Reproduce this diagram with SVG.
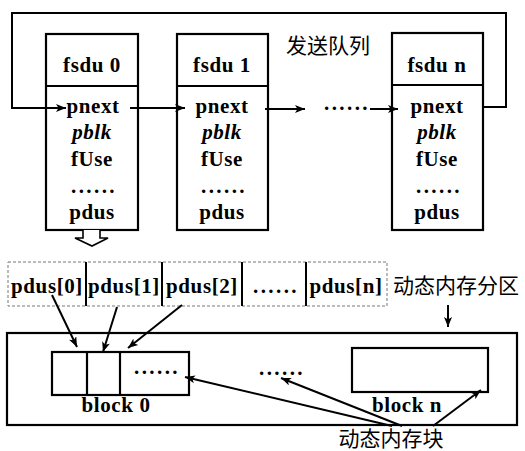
<svg xmlns="http://www.w3.org/2000/svg" width="525" height="451" viewBox="0 0 525 451">
<defs>
<style>
.box{fill:none;stroke:#000;stroke-width:2.2}
.ln{fill:none;stroke:#000;stroke-width:2}
.t{font-weight:bold;font-size:21px;letter-spacing:0.6px;fill:#000;text-anchor:middle}
.it{font-style:italic}
.dots{letter-spacing:2.4px}
.cn{font-size:21px;fill:#000;text-anchor:middle}
</style>
<marker id="ah" viewBox="0 0 10 8" refX="10" refY="4" markerWidth="11" markerHeight="8" markerUnits="userSpaceOnUse" orient="auto">
<path d="M0,0 L10,4 L0,8 L2.5,4 Z" fill="#000"/>
</marker>
</defs>
<rect width="525" height="451" fill="#fff"/>
<g font-family="Liberation Serif, DejaVu Serif, serif">
<g id="fsdu0">
<rect class="box" x="46" y="34" width="92" height="196"/>
<line class="box" x1="46" y1="86" x2="138" y2="86"/>
<text class="t" x="92" y="72">fsdu 0</text>
<text class="t" x="93" y="113">pnext</text>
<text class="t it" x="92" y="139">pblk</text>
<text class="t" x="92" y="166">fUse</text>
<text class="t dots" x="94" y="193">......</text>
<text class="t" x="92" y="219">pdus</text>
</g>

<g id="fsdu1">
<rect class="box" x="177" y="34" width="91" height="196"/>
<line class="box" x1="177" y1="86" x2="268" y2="86"/>
<text class="t" x="222" y="72">fsdu 1</text>
<text class="t" x="222" y="113">pnext</text>
<text class="t it" x="222" y="139">pblk</text>
<text class="t" x="222" y="166">fUse</text>
<text class="t dots" x="224" y="193">......</text>
<text class="t" x="222" y="219">pdus</text>
</g>

<g id="fsdun">
<rect class="box" x="392" y="33" width="91" height="197"/>
<line class="box" x1="392" y1="85" x2="483" y2="85"/>
<text class="t" x="437" y="72">fsdu n</text>
<text class="t" x="437" y="113">pnext</text>
<text class="t it" x="437" y="139">pblk</text>
<text class="t" x="437" y="166">fUse</text>
<text class="t dots" x="439" y="193">......</text>
<text class="t" x="437" y="219">pdus</text>
</g>

<g id="queue-dots">
<text class="t dots" x="347" y="110">......</text>
</g>

<g id="pdus-array">
<rect x="8" y="262" width="379" height="44" fill="none" stroke="#777" stroke-width="1" stroke-dasharray="3,2"/>
<line class="ln" x1="86" y1="262" x2="86" y2="306" stroke-width="2.5"/>
<line class="ln" x1="162" y1="262" x2="162" y2="306" stroke-width="2.5"/>
<line class="ln" x1="242" y1="262" x2="242" y2="306" stroke-width="2.5"/>
<line class="ln" x1="306" y1="262" x2="306" y2="306" stroke-width="2.5"/>
<text class="t" x="47" y="293">pdus[0]</text>
<text class="t" x="124" y="293">pdus[1]</text>
<text class="t" x="202" y="293">pdus[2]</text>
<text class="t dots" x="276" y="293">......</text>
<text class="t" x="346" y="293">pdus[n]</text>
</g>

<g id="memory">
<rect class="box" x="7" y="333" width="510" height="92"/>
</g>

<g id="block0">
<rect class="box" x="52" y="352" width="137" height="43"/>
<line class="box" x1="87" y1="352" x2="87" y2="395"/>
<line class="box" x1="120" y1="352" x2="120" y2="395"/>
<text class="t dots" x="157" y="374">......</text>
<text class="t" x="116" y="412">block 0</text>
</g>

<g id="mid-dots">
<text class="t dots" x="282" y="375">......</text>
</g>

<g id="blockn">
<rect class="box" x="352" y="348" width="136" height="44"/>
<text class="t" x="407" y="412">block n</text>
</g>
</g>

<g font-family="Noto Sans CJK SC, Noto Sans CJK JP, sans-serif">
<g id="queue-label">
<text class="cn" x="328" y="53">发送队列</text>
</g>
<g id="partition-label">
<text class="cn" x="456" y="293">动态内存分区</text>
</g>
<g id="block-label">
<text class="cn" x="391" y="446">动态内存块</text>
</g>
</g>

<g id="connectors">
<polyline class="ln" points="483,107 506,107 506,13 12,13 12,108 66,108" marker-end="url(#ah)"/>
<line class="ln" x1="130" y1="108" x2="185" y2="108" marker-end="url(#ah)"/>
<line class="ln" x1="265" y1="109" x2="305" y2="109" marker-end="url(#ah)"/>
<line class="ln" x1="370" y1="109" x2="398" y2="109" marker-end="url(#ah)"/>
<path d="M83,230 L83,238 L75,238 L92,246 L108,238 L100,238 L100,230" fill="#fff" stroke="#000" stroke-width="1.6"/>
<line class="ln" x1="448" y1="305" x2="448" y2="327" marker-end="url(#ah)"/>
<line class="ln" x1="52" y1="295" x2="77" y2="347" marker-end="url(#ah)"/>
<line class="ln" x1="117" y1="307" x2="103" y2="352" marker-end="url(#ah)"/>
<line class="ln" x1="182" y1="305" x2="128" y2="348" marker-end="url(#ah)"/>
<line class="ln" x1="392" y1="426" x2="185" y2="377" marker-end="url(#ah)"/>
<line class="ln" x1="402" y1="426" x2="281" y2="378" marker-end="url(#ah)"/>
<line class="ln" x1="433" y1="426" x2="481" y2="390" marker-end="url(#ah)"/>
</g>
</svg>
